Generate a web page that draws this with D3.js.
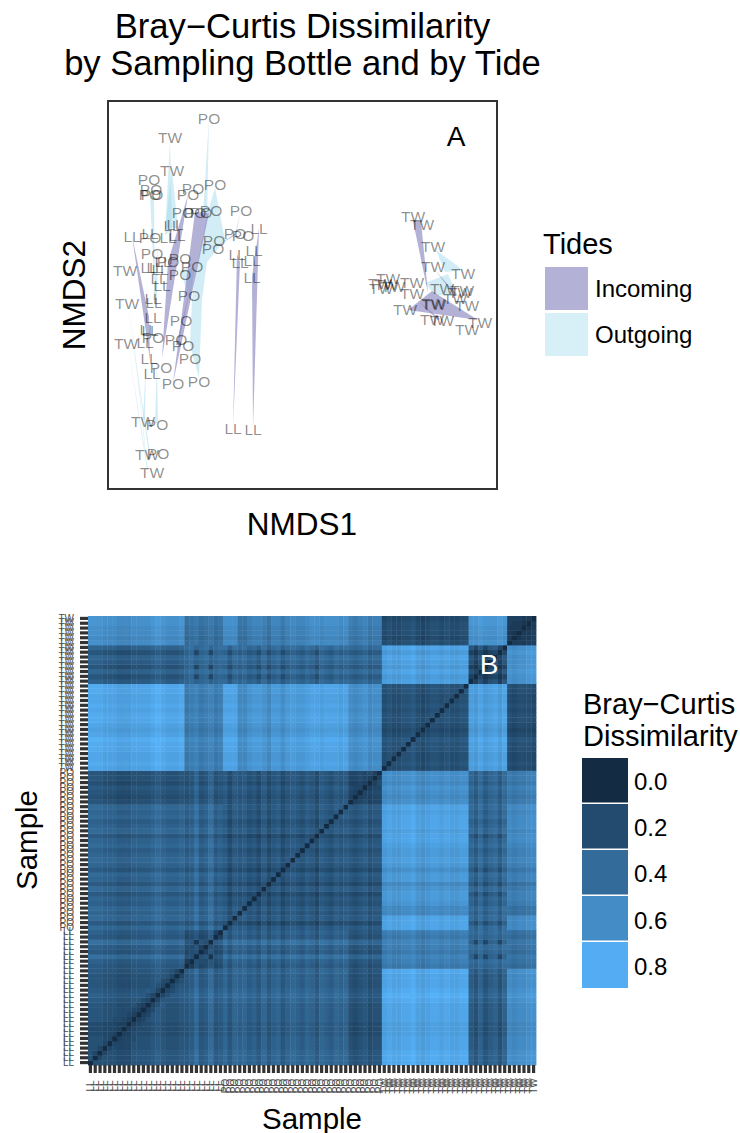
<!DOCTYPE html>
<html lang="en">
<head>
    <meta charset="UTF-8">
    <title>Bray-Curtis Dissimilarity</title>
    <style>
        body { margin: 0; background: white; }
        svg { display: block; opacity: 0.999; }
        text { font-family: "Liberation Sans", Arial, sans-serif; }
        .nmds-label { font-size: 15.5px; fill: #000; fill-opacity: 0.45; text-anchor: middle; }
        .sample-axis text { font-size: 10px; fill: #4d4d4d; font-family: "Liberation Sans", Arial, sans-serif; }
        .sample-axis line { stroke: #333; stroke-width: 3.2; }
    </style>
    <script src="https://d3js.org/d3.v7.min.js"></script>
</head>
<body>
<script>
    // NMDS site scores, per group
    const nmdsLL = [[.24,2.53],[.42,2.56],[.64,2.64],[.67,2.65],[.60,2.52],[.69,2.54],[1.51,2.61],[.41,2.22],[.55,2.28],[1.29,2.35],
        [1.32,2.27],[1.46,2.39],[1.44,2.29],[1.44,2.12],[.51,2.11],[.54,2.04],[.45,1.91],[.46,1.87],[.45,1.72],[.42,1.59],
        [.37,1.47],[.41,1.31],[.44,1.16],[1.25,.61],[1.45,.60],[.47,2.22],[.52,2.20],[.40,1.60]];
    const nmdsPO = [[1.01,3.71],[.41,3.10],[.43,3.00],[.42,2.95],[.44,2.95],[.85,3.01],[1.07,3.05],[.80,2.95],[.75,2.77],[.87,2.77],
        [.93,2.77],[1.03,2.79],[1.33,2.79],[1.27,2.56],[1.35,2.54],[1.06,2.49],[1.05,2.41],[.42,2.52],[.44,2.36],[.60,2.28],
        [.72,2.31],[.84,2.23],[.72,2.15],[.81,1.94],[.73,1.69],[.45,1.52],[.68,1.50],[.75,1.44],[.82,1.31],[.53,1.22],
        [.65,1.06],[.91,1.08],[.49,.65],[.50,.36]];
    const nmdsTW = [[.62,3.52],[.64,3.19],[.17,2.19],[.19,1.86],[.18,1.46],[.35,.68],[.39,.35],[.44,.17],
        [3.05,2.73],[3.14,2.65],[3.25,2.43],[3.25,2.23],[3.55,2.16],[2.80,2.11],[2.72,2.06],[2.73,2.01],[2.85,2.03],[3.04,2.07],
        [3.04,1.96],[3.34,2.01],[3.54,1.99],[3.47,1.91],[3.59,1.84],[2.97,1.80],[3.25,1.86],[3.26,1.85],[3.24,1.70],[3.34,1.69],
        [3.72,1.67],[3.59,1.60],[3.52,1.97],[2.78,2.05]];

    // polygons joining the samples of one bottle
    const incomingPolys = [
        [[.80,2.94],[.60,2.27],[.54,1.31]],
        [[.87,2.77],[1.01,2.76],[.65,1.06]],
        [[.24,2.53],[.41,1.72],[.42,1.29]],
        [[1.29,2.35],[1.32,2.27],[1.25,.61]],
        [[1.51,2.61],[1.44,2.12],[1.45,.60]],
        [[1.33,2.78],[1.28,2.56],[1.06,2.41],[1.27,2.54]],
        [[3.05,2.68],[3.13,2.68],[3.20,1.96]],
        [[3.00,1.79],[3.24,1.98],[3.70,1.69]],
        [[3.27,2.19],[3.49,1.94],[3.47,1.93]],
        [[3.09,1.89],[3.32,1.70],[3.30,1.69]],
        [[.82,1.99],[.70,1.44],[.68,1.44]]
    ];
    const outgoingPolys = [
        [[1.01,3.71],[.99,2.74],[.95,2.74]],
        [[.62,3.49],[.64,2.59],[.57,2.54]],
        [[1.07,3.01],[1.17,2.49],[.99,2.27],[.94,1.89],[.91,1.11],[.82,1.44],[.84,1.89],[.88,2.19],[.99,2.74]],
        [[.42,2.94],[.46,2.92],[.47,1.89]],
        [[.64,3.19],[.70,2.61],[.57,2.61]],
        [[.19,2.14],[.38,.35],[.37,.40]],
        [[.19,1.86],[.42,.36],[.41,.34]],
        [[.20,1.44],[.40,.19],[.39,.19]],
        [[.49,1.26],[.50,.66],[.47,.66]],
        [[.38,1.29],[.35,.69],[.37,.69]],
        [[.50,2.44],[.45,1.89],[.49,1.89]],
        [[.72,2.19],[.87,2.21],[.82,1.89]],
        [[3.28,2.39],[3.55,2.19],[3.37,2.17]],
        [[3.17,2.06],[3.40,2.15],[3.50,1.93],[3.27,1.94]]
    ];

    const tideNames = ["Incoming", "Outgoing"];
    const tideColors = ["#807dba", "#a6dbec"];

    const sampleGroups = ["LL", "PO", "TW"];
    const sampleCounts = [28, 33, 32];
    const legendBreaks = [0, 0.2, 0.4, 0.6, 0.8];

    // lower triangle of the dissimilarity matrix, one string per sample,
    // a = 0 up to z = 0.825 in steps of 0.033; spaces only split the groups of columns
    const llRows = [
        "a","ha","hfa","hhfa","hhhfa","hhhgfa","gggffea","gggfffea","gggfffeea","iiihhggfea",
        "iiihhhggfea","iiihhhgggfea","iiihhhggghfea","jjjiiihhhiigfa","kkkjjjiiijjjhfa","jjjiiihhhiiijifa",
        "iiihhhggghhhhihfa","iiihhhggghhhhijgfa","iiihhhggghhhhijihfa","jjjiiihhhiiiijkjihfa",
        "jjjiiihhhiiiijkjiiij a",
        "kkkjjjiiijjjjklkjjjk da",
        "nnnmmmlllmmmmnonmmmn hha",
        "jjjiiihhhiiiijkjiiij fgha",
        "kkkjjjiiijjjjklkjjjk ggiea",
        "nnnmmmlllmmmmnonmmmn iiciha",
        "jjjiiihhhiiiijkjiiij fgifgja",
        "kkkjjjiiijjjjklkjjjk ghjghkea"
    ];
    const poRows = [
        "mmmlllkkkllllmnmlllm kloklokl a",
        "jjjiiihhhiiiijkjiiij hilhilhi ha",
        "mmmlllkkkllllmnmlllm kloklokl kha",
        "lllkkkjjjkkkklmlkkkl jknjknjk jgja",
        "mmmlllkkkllllmnmlllm kloklokl khkja",
        "kkkjjjiiijjjjklkjjjk ijmijmij ifihia",
        "lllkkkjjjkkkklmlkkkl jknjknjk jgjijha",
        "jjjiiihhhiiiijkjiiij hilhilhi hehghfga",
        "mmmlllkkkllllmnmlllm kloklokl khkjkijha",
        "jjjiiihhhiiiijkjiiij hilhilhi hehghfgeha",
        "lllkkkjjjkkkklmlkkkl jknjknjk jgjijhigjga",
        "mmmlllkkkllllmnmlllm kloklokl khkjkijhkhja",
        "jjjiiihhhiiiijkjiiij hilhilhi hehghfgehegha",
        "lllkkkjjjkkkklmlkkkl jknjknjk jgjijhigjgijga",
        "mmmlllkkkllllmnmlllm kloklokl khkjkijhkhjkhja",
        "lllkkkjjjkkkklmlkkkl jknjknjk jgjijhigjgijgija",
        "kkkjjjiiijjjjklkjjjk ijmijmij ifihighfifhifhiha",
        "mmmlllkkkllllmnmlllm kloklokl khkjkijhkhjkhjkjia",
        "lllkkkjjjkkkklmlkkkl jknjknjk jgjijhigjgijgijihja",
        "jjjiiihhhiiiijkjiiij hilhilhi hehghfgehegheghgfhga",
        "mmmlllkkkllllmnmlllm kloklokl khkjkijhkhjkhjkjikjha",
        "lllkkkjjjkkkklmlkkkl jknjknjk jgjijhigjgijgijihjigja",
        "kkkjjjiiijjjjklkjjjk ijmijmij ifihighfifhifhihgihfiha",
        "mmmlllkkkllllmnmlllm kloklokl khkjkijhkhjkhjkjikjhkjia",
        "lllkkkjjjkkkklmlkkkl jknjknjk jgjijhigjgijgijihjigjihja",
        "mmmlllkkkllllmnmlllm kloklokl khkjkijhkhjkhjkjikjhkjikja",
        "iiihhhggghhhhijihhhi hilhilhi jgjijhigjgijgijihjigjihjij a",
        "hhhgggfffgggghihgggh ghkghkgh ifihighfifhifhihgihfihgihi ea",
        "iiihhhggghhhhijihhhi hilhilhi jgjijhigjgijgijihjigjihjij fea",
        "jjjiiihhhiiiijkjiiij ijmijmij khkjkijhkhjkhjkjikjhkjikjk gffa",
        "hhhgggfffgggghihgggh ghkghkgh ifihighfifhifhihgihfihgihi eefea",
        "iiihhhggghhhhijihhhi hilhilhi jgjijhigjgijgijihjigjihjij ffgfea",
        "iiihhhggghhhhijihhhi hilhilhi jgjijhigjgijgijihjigjihjij ffgfgea"
    ];
    const twRows = [
        "xxxwwwvvvwwwwxyxwwwx opqopqop wwwrrtuutruusuvuuvwwvwwwvw srstrss a",
        "yyyxxxwwwxxxxyzyxxxy pqrpqrpq xxxssuvvusvvtvwvvwxxwxxxwx tstustt ga",
        "xxxwwwvvvwwwwxyxwwwx opqopqop wwwrrtuutruusuvuuvwwvwwwvw srstrss gha",
        "xxxwwwvvvwwwwxyxwwwx opqopqop wwwrrtuutruusuvuuvwwvwwwvw srstrss ghga",
        "yyyxxxwwwxxxxyzyxxxy pqrpqrpq xxxssuvvusvvtvwvvwxxwxxxwx tstustt hihha",
        "yyyxxxwwwxxxxyzyxxxy pqrpqrpq xxxssuvvusvvtvwvvwxxwxxxwx tstustt hihhia",
        "zzzyyyxxxyyyyzzzyyyz qrsqrsqr yyyttvwwvtwwuwxwwxyyxyyyxy utuvtuu ijiijja",
        "xxxwwwvvvwwwwxyxwwwx opqopqop wwwrrtuutruusuvuuvwwvwwwvw srstrss ghgghhia",
        "wwwvvvuuuvvvvwxwvvvw nopnopno vvvqqsttsqttrtuttuvvuvvvuv rqrsqrr fgffgghfa",
        "xxxwwwvvvwwwwxyxwwwx opqopqop wwwrrtuutruusuvuuvwwvwwwvw srstrss ghgghhigfa",
        "yyyxxxwwwxxxxyzyxxxy pqrpqrpq xxxssuvvusvvtvwvvwxxwxxxwx tstustt hihhiijhgha",
        "yyyxxxwwwxxxxyzyxxxy pqrpqrpq xxxssuvvusvvtvwvvwxxwxxxwx tstustt hihhiijhghia",
        "xxxwwwvvvwwwwxyxwwwx opqopqop wwwrrtuutruusuvuuvwwvwwwvw srstrss ghgghhigfghha",
        "yyyxxxwwwxxxxyzyxxxy pqrpqrpq xxxssuvvusvvtvwvvwxxwxxxwx tstustt hihhiijhghiiha",
        "xxxwwwvvvwwwwxyxwwwx opqopqop wwwrrtuutruusuvuuvwwvwwwvw srstrss ghgghhigfghhgha",
        "xxxwwwvvvwwwwxyxwwwx opqopqop wwwrrtuutruusuvuuvwwvwwwvw srstrss ghgghhigfghhghga",
        "yyyxxxwwwxxxxyzyxxxy pqrpqrpq xxxssuvvusvvtvwvvwxxwxxxwx tstustt hihhiijhghiihihha",
        "yyyxxxwwwxxxxyzyxxxy pqrpqrpq xxxssuvvusvvtvwvvwxxwxxxwx tstustt hihhiijhghiihihhia",
        "kkkjjjiiijjjjklkjjjk lmklmklm mjmlmkljmjlmjlmlkmljmlkmlm lklmkll vwvvwwxvuvwwvwvvww a",
        "iiihhhggghhhhijihhhi klfklfkl kgkjkijgkgjkgjkjikjgkjikjk jijkijj uvuuvvwutuvvuvuuvv ea",
        "lllkkkjjjkkkklmlkkkl mnlmnlmn nknmnlmknkmnkmnmlnmknmlnmn mlmnlmm wxwwxxywvwxxwxwwxx hfa",
        "iiihhhggghhhhijihhhi klfklfkl kgkjkijgkgjkgjkjikjgkjikjk jijkijj uvuuvvwutuvvuvuuvv ecfa",
        "kkkjjjiiijjjjklkjjjk lmklmklm mjmlmkljmjlmjlmlkmljmlkmlm lklmkll vwvvwwxvuvwwvwvvww hehea",
        "lllkkkjjjkkkklmlkkkl mnlmnlmn nknmnlmknkmnkmnmlnmknmlnmn mlmnlmm wxwwxxywvwxxwxwwxx ifjfia",
        "iiihhhggghhhhijihhhi klfklfkl kgkjkijgkgjkgjkjikjgkjikjk jijkijj uvuuvvwutuvvuvuuvv ecfcefa",
        "lllkkkjjjkkkklmlkkkl mnlmnlmn nknmnlmknkmnkmnmlnmknmlnmn mlmnlmm wxwwxxywvwxxwxwwxx ifjfijfa",
        "tttsssrrrsssstutssst mnomnomn sssnnpqqpnqqoqrqqrssrsssrs popqopp ghgghhigfghhghgghh ttutttut a",
        "sssrrrqqqrrrrstsrrrs lmnlmnlm rrrmmoppomppnpqppqrrqrrrqr onopnoo fgffgghfefggfgffgg sstsssts da",
        "tttsssrrrsssstutssst mnomnomn sssnnpqqpnqqoqrqqrssrsssrs popqopp ghgghhigfghhghgghh ttutttut dca",
        "tttsssrrrsssstutssst mnomnomn sssnnpqqpnqqoqrqqrssrsssrs popqopp ghgghhigfghhghgghh ttutttut ddda",
        "uuutttsssttttuvutttu nopnopno tttooqrrqorrprsrrsttstttst qpqrpqq ghgghhigfghhghgghh uuvuuuvu eddca",
        "uuutttsssttttuvutttu nopnopno tttooqrrqorrprsrrsttstttst qpqrpqq fgffgghfefggfgffgg uuvuuuvu eeedda"
    ];

    const width = 740;
    const height = 1133;

    const svg = d3.select("body")
                  .append("svg")
                  .attr("width", width)
                  .attr("height", height);

    // ---- panel A: NMDS ----
    const x = d3.scaleLinear().domain([0, 3.89]).range([108, 497]);
    const y = d3.scaleLinear().domain([0, 3.88]).range([489, 101]);

    svg.append("text").attr("x", 302.5).attr("y", 38).attr("text-anchor", "middle")
       .style("font-size", "34.6px").text("Bray\u2212Curtis Dissimilarity");
    svg.append("text").attr("x", 302.5).attr("y", 75).attr("text-anchor", "middle")
       .style("font-size", "34.6px").text("by Sampling Bottle and by Tide");

    const polyLine = d3.line().x(d => x(d[0])).y(d => y(d[1])).curve(d3.curveLinearClosed);

    svg.selectAll(".outgoing").data(outgoingPolys).enter().append("path")
       .attr("class", "outgoing")
       .attr("d", polyLine)
       .attr("fill", tideColors[1])
       .attr("fill-opacity", 0.5);

    svg.selectAll(".incoming").data(incomingPolys).enter().append("path")
       .attr("class", "incoming")
       .attr("d", polyLine)
       .attr("fill", tideColors[0])
       .attr("fill-opacity", 0.6);

    [nmdsLL, nmdsPO, nmdsTW].forEach((points, g) => {
        svg.selectAll(".nmds-" + g).data(points).enter().append("text")
           .attr("class", "nmds-label nmds-" + g)
           .attr("x", d => x(d[0]))
           .attr("y", d => y(d[1]))
           .attr("dy", "0.36em")
           .text(sampleGroups[g]);
    });

    svg.append("rect")
       .attr("x", x(0)).attr("y", y(3.88))
       .attr("width", x(3.89) - x(0)).attr("height", y(0) - y(3.88))
       .attr("fill", "none").attr("stroke", "#333").attr("stroke-width", 2);

    svg.append("text").attr("x", 456).attr("y", 146).attr("text-anchor", "middle")
       .style("font-size", "28px").text("A");
    svg.append("text").attr("x", 302).attr("y", 535).attr("text-anchor", "middle")
       .style("font-size", "31.5px").text("NMDS1");
    svg.append("text").attr("transform", "translate(85,295) rotate(-90)").attr("text-anchor", "middle")
       .style("font-size", "31.5px").text("NMDS2");

    svg.append("text").attr("x", 543).attr("y", 254).style("font-size", "29px").text("Tides");
    tideNames.forEach((name, i) => {
        svg.append("rect")
           .attr("x", 545).attr("y", 267 + i * 46)
           .attr("width", 43).attr("height", 43)
           .attr("fill", tideColors[i])
           .attr("fill-opacity", i === 0 ? 0.6 : 0.45);
        svg.append("text").attr("x", 595).attr("y", 297 + i * 46)
           .style("font-size", "24px").text(name);
    });

    // ---- panel B: heat map ----
    const sampleLabels = sampleGroups.flatMap((g, i) => d3.range(sampleCounts[i]).map(() => g));
    const sampleIdx = d3.range(sampleLabels.length);

    const xHeat = d3.scaleBand().domain(sampleIdx).range([88, 536]);
    const yHeat = d3.scaleBand().domain(sampleIdx).range([1065, 616]);
    const fill = d3.scaleLinear().domain([0, 0.825]).range(["#132B43", "#56B1F7"]);

    const letters = "abcdefghijklmnopqrstuvwxyz";
    const rows = llRows.concat(poRows, twRows).map(r => r.replace(/ /g, ""));
    const cells = [];
    rows.forEach((row, i) => {
        row.split("").forEach((c, j) => {
            const v = letters.indexOf(c) * 0.033;
            cells.push({i: i, j: j, v: v});
            if (i !== j) cells.push({i: j, j: i, v: v});
        });
    });

    svg.append("g").selectAll("rect").data(cells).enter().append("rect")
       .attr("x", d => xHeat(d.j))
       .attr("y", d => yHeat(d.i))
       .attr("width", xHeat.bandwidth() + 0.4)
       .attr("height", yHeat.bandwidth() + 0.4)
       .attr("fill", d => fill(d.v));

    const xAxis = d3.axisBottom(xHeat).tickSize(8).tickFormat(i => sampleLabels[i]);
    const yAxis = d3.axisLeft(yHeat).tickSize(8).tickPadding(6).tickFormat(i => sampleLabels[i]);

    const gx = svg.append("g").attr("class", "sample-axis").attr("transform", "translate(0,1065)").call(xAxis);
    gx.select(".domain").remove();
    gx.selectAll("text")
      .attr("y", 0).attr("dy", "0.35em")
      .attr("transform", "translate(0,21) rotate(-90)")
      .attr("text-anchor", "middle");

    const gy = svg.append("g").attr("class", "sample-axis").attr("transform", "translate(88,0)").call(yAxis);
    gy.select(".domain").remove();

    svg.append("text").attr("x", 489).attr("y", 674).attr("text-anchor", "middle")
       .attr("fill", "white").style("font-size", "28px").text("B");
    svg.append("text").attr("x", 312).attr("y", 1129).attr("text-anchor", "middle")
       .style("font-size", "29.5px").text("Sample");
    svg.append("text").attr("transform", "translate(37,840) rotate(-90)").attr("text-anchor", "middle")
       .style("font-size", "29.5px").text("Sample");

    svg.append("text").attr("x", 583).attr("y", 714).style("font-size", "29px").text("Bray\u2212Curtis");
    svg.append("text").attr("x", 583).attr("y", 746).style("font-size", "29px").text("Dissimilarity");

    legendBreaks.forEach((b, i) => {
        svg.append("rect")
           .attr("x", 582).attr("y", 758 + i * 46)
           .attr("width", 46).attr("height", 44.5 + (i === 4 ? 1.5 : 0))
           .attr("fill", fill(b));
        svg.append("text").attr("x", 634).attr("y", 790 + i * 46.2)
           .style("font-size", "24px").text(b.toFixed(1));
    });
</script>
</body>
</html>
